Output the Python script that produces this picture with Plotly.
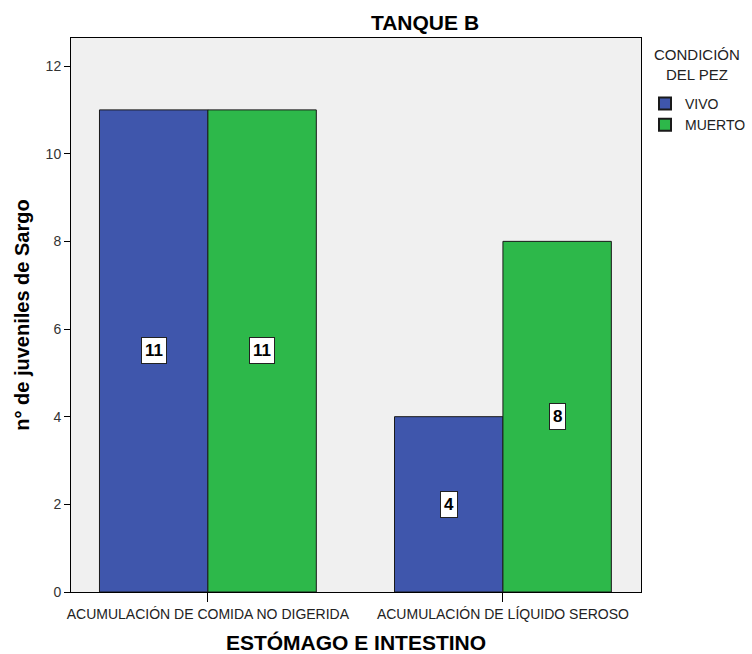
import plotly.graph_objects as go

categories = ["ACUMULACIÓN DE COMIDA NO DIGERIDA", "ACUMULACIÓN DE LÍQUIDO SEROSO"]
series_names = ["VIVO", "MUERTO"]
vivo = [11, 4]
muerto = [11, 8]
colors = ["#3F56AC", "#2DB84A"]
values = [vivo, muerto]

x_pos = list(range(len(categories)))
bargap = 0.265
group_w = 1 - bargap

W, H = 752, 654
L, R, T, B = 71, 111, 38, 62
pw, ph = W - L - R, H - T - B

fig = go.Figure()
for name, vals, col in zip(series_names, values, colors):
    fig.add_trace(go.Bar(
        x=x_pos, y=vals, name=name,
        marker=dict(color=col, line=dict(color="#1a1a1a", width=1)),
    ))

annotations = []
n = len(series_names)
for si, vals in enumerate(values):
    for ci, v in enumerate(vals):
        xc = ci - group_w / 2 + group_w / n * (si + 0.5)
        annotations.append(dict(
            x=xc, y=v / 2, xref="x", yref="y", text=f"<b>{v}</b>",
            showarrow=False, bgcolor="white", bordercolor="#222",
            borderwidth=1, borderpad=3,
            font=dict(family="Liberation Sans, Arial", size=17, color="black"),
        ))

# legend title (centred, two lines)
annotations.append(dict(
    x=(697 - L) / pw, y=(H - B - 64) / ph, xref="paper", yref="paper",
    text="CONDICIÓN<br>DEL PEZ", showarrow=False, align="center",
    xanchor="center", yanchor="middle",
    font=dict(family="Liberation Sans, Arial", size=15, color="#222"),
))

fig.update_layout(
    width=W, height=H,
    margin=dict(l=L, r=R, t=T, b=B, autoexpand=False),
    paper_bgcolor="white", plot_bgcolor="#F0F0F0",
    barmode="group", bargap=bargap, bargroupgap=0,
    title=dict(text="<b>TANQUE B</b>", x=425 / W, xanchor="center",
               y=1 - 23 / H, yanchor="middle",
               font=dict(family="Liberation Sans, Arial", size=21, color="black")),
    font=dict(family="Liberation Sans, Arial", size=12, color="#333"),
    legend=dict(
        x=(645 - L) / pw, y=(H - B - 88) / ph, xanchor="left", yanchor="top",
        font=dict(size=14, color="#222"),
        itemsizing="constant", tracegroupgap=0, itemwidth=30,
        bgcolor="rgba(0,0,0,0)",
    ),
    annotations=annotations,
    showlegend=True,
)
fig.update_xaxes(
    range=[-0.464, 1.468], tickmode="array", tickvals=x_pos, ticktext=categories,
    ticks="outside", ticklen=9, tickcolor="black", showline=True, linecolor="black",
    mirror=True, showgrid=False, zeroline=False, automargin=False,
    tickfont=dict(size=14, color="#222"),
    title=dict(text="<b>ESTÓMAGO E INTESTINO</b>", standoff=14,
               font=dict(size=21, color="black")),
)
fig.update_yaxes(
    range=[0, 12.64], tickvals=[0, 2, 4, 6, 8, 10, 12],
    ticks="outside", ticklen=6, tickcolor="black", showline=True, linecolor="black",
    mirror=True, showgrid=False, zeroline=False, automargin=False,
    tickfont=dict(size=14, color="#333"),
    title=dict(text="<b>n° de juveniles de Sargo</b>", standoff=10,
               font=dict(size=20, color="black")),
)

fig.write_html("out.html", config={"displayModeBar": False},
               post_script="document.body.style.margin='0';")
